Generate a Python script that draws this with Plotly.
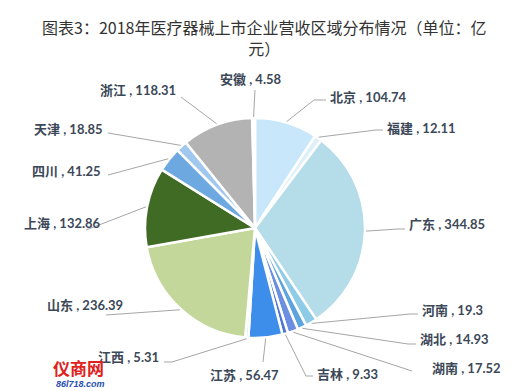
import math
import plotly.graph_objects as go

# ---- data ----
provinces = ["北京", "福建", "广东", "河南", "湖北", "湖南", "吉林", "江苏",
             "江西", "山东", "上海", "四川", "天津", "浙江", "安徽"]
revenue = [104.74, 12.11, 344.85, 19.3, 14.93, 17.52, 9.33, 56.47,
           5.31, 236.39, 132.86, 41.25, 18.85, 118.31, 4.58]
title_text = "图表3：2018年医疗器械上市企业营收区域分布情况（单位：亿<br>元）"

# ---- styles ----
colors = ["#c8e7fa", "#deeff9", "#b4dde9", "#8dcbe7", "#5da3de", "#6b8ee0",
          "#4d74d6", "#3c8eea", "#cfe2f5", "#c4d79b", "#3f6b24", "#6ea8e0",
          "#a0c8ef", "#b3b3b3", "#eeeeee"]

W, H = 513, 391
CX, CY, R = 247, 220, 110  # pie centre / radius in pixels

# label layout (pixels): text x, text y, anchor, attach x, attach y, elbow x (or None)
label_layout = [
    (320, 89, "left", 318, 92, 306),     # 北京
    (377, 120, "left", 375, 122, 368),   # 福建
    (399, 216, "left", 397, 221, 390),   # 广东
    (412, 302, "left", 410, 306, 402),   # 河南
    (410, 331, "left", 408, 336, 400),   # 湖北
    (422, 360, "left", 404, 363, None),  # 湖南
    (307, 366, "left", 305, 368, 298),   # 吉林
    (236, 367, "center", 255, 354, None),# 江苏
    (153, 349, "right", 156, 354, 164),  # 江西
    (117, 297, "right", 98, 307, None),  # 山东
    (95, 215, "right", 78, 222, None),   # 上海
    (95, 163, "right", 100, 167, None),  # 四川
    (97, 121, "right", 100, 125, None),  # 天津
    (170, 82, "right", 173, 89, None),   # 浙江
    (243, 71, "center", 247, 82, None),  # 安徽
]


def px(x):
    return x / W


def py(y):
    return 1 - y / H


fig = go.Figure()
fig.add_trace(go.Pie(
    labels=provinces, values=revenue, sort=False, direction="clockwise",
    rotation=0, textinfo="none", showlegend=False,
    marker=dict(colors=colors, line=dict(color="white", width=2.5)),
    domain=dict(x=[px(CX - R), px(CX + R)], y=[py(CY + R), py(CY - R)]),
))

total = sum(revenue)
cum = 0.0
shapes = []
annotations = []
font_lbl = dict(family="Lato, 'Noto Sans CJK SC', sans-serif", size=13, color="#3c4858")
for name, val, lay in zip(provinces, revenue, label_layout):
    mid = (cum + val / 2) / total * 2 * math.pi
    cum += val
    ex = CX + (R + 1) * math.sin(mid)
    ey = CY - (R + 1) * math.cos(mid)
    tx, ty, anch, ax, ay, elb = lay
    pts = [(ex, ey)]
    if elb is not None:
        pts.append((elb, ay))
    pts.append((ax, ay))
    path = "M " + " L ".join(f"{px(a):.5f},{py(b):.5f}" for a, b in pts)
    shapes.append(dict(type="path", path=path, xref="paper", yref="paper",
                       line=dict(color="#a6a6a6", width=1)))
    annotations.append(dict(text=f"<b>{name} , {val}</b>", x=px(tx), y=py(ty),
                            xref="paper", yref="paper", xanchor=anch,
                            yanchor="middle", showarrow=False, font=font_lbl))

title_font = dict(family="'Noto Sans CJK SC', sans-serif", size=16, color="#333333")
annotations.append(dict(text=title_text, x=px(256), y=py(5), xref="paper", yref="paper",
                        xanchor="center", yanchor="top", align="center", showarrow=False,
                        font=title_font))

# watermark text (bottom-left)
annotations.append(dict(text="<b>仪商网</b>", x=px(70), y=py(359), xref="paper", yref="paper",
                        xanchor="center", yanchor="middle", showarrow=False,
                        font=dict(family="'Noto Sans CJK SC', sans-serif", size=17, color="#e0201c")))
annotations.append(dict(text="<b><i>86l718.com</i></b>", x=px(72), y=py(376), xref="paper", yref="paper",
                        xanchor="center", yanchor="middle", showarrow=False,
                        font=dict(family="Arial, sans-serif", size=9, color="#2a4fb0")))

fig.update_layout(
    width=W, height=H, margin=dict(l=0, r=0, t=0, b=0),
    paper_bgcolor="white", plot_bgcolor="white",
    shapes=shapes, annotations=annotations,
)
fig.write_html("out.html")
